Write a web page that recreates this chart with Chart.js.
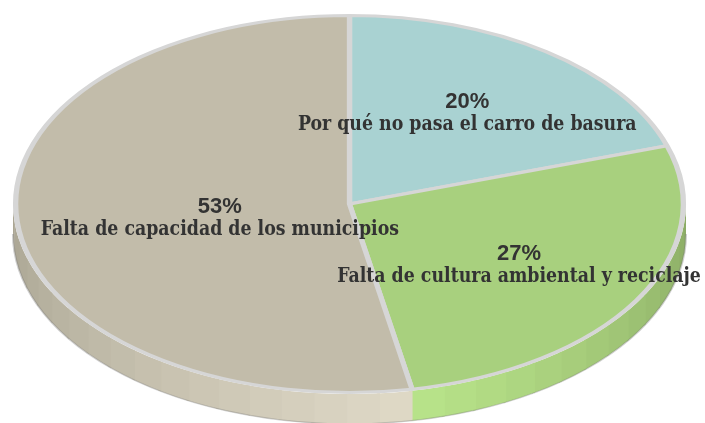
<!DOCTYPE html>
<html>
<head>
<meta charset="utf-8">
<script src="https://cdn.jsdelivr.net/npm/chart.js@4.4.1/dist/chart.umd.min.js"></script>
<style>
  html, body { margin: 0; background: #fff; }
  #wrap { width: 705px; height: 423px; }
</style>
</head>
<body>
<div id="wrap"><canvas id="pie"></canvas></div>
<script>
// data (clockwise from the top)
const categories = [
  'Por qué no pasa el carro de basura',
  'Falta de cultura ambiental y reciclaje',
  'Falta de capacidad de los municipios'
];
const percents = [20, 27, 53];

// colours
const faceColors = ['#a9d2d2', '#a8d07e', '#c2bcaa'];
const sideLight = ['#c4e6e6', '#b9e48a', '#e0dac7'];
const sideDark = ['#8fb3b3', '#8aaa64', '#a8a492'];

const stretchX = 336.5 / 190; // ellipse width / height
const depth = 30;             // thickness of the disc
const lightAngle = 1.38;      // where the side is brightest (radians)
const labelRadius = [0.6, 0.59, 0.39];
const labelShiftY = [-5, -1, 2];

function mix(c1, c2, t) {
  const a = parseInt(c1.slice(1), 16), b = parseInt(c2.slice(1), 16);
  const r = Math.round(((a >> 16) & 255) * (1 - t) + ((b >> 16) & 255) * t);
  const g = Math.round(((a >> 8) & 255) * (1 - t) + ((b >> 8) & 255) * t);
  const bl = Math.round((a & 255) * (1 - t) + (b & 255) * t);
  return `rgb(${r},${g},${bl})`;
}

const pie3d = {
  id: 'pie3d',
  beforeDatasetsDraw(chart) {
    const ctx = chart.ctx;
    const arcs = chart.getDatasetMeta(0).data;
    const cx = arcs[0].x, cy = arcs[0].y;
    ctx.save();
    ctx.translate(cx, 0);
    ctx.scale(stretchX, 1);
    ctx.translate(-cx, 0);

    // side of the disc, in small bands
    arcs.forEach((arc, i) => {
      const r = arc.outerRadius + 1.5;
      const a0 = Math.max(arc.startAngle, 0);
      const a1 = Math.min(arc.endAngle, Math.PI);
      if (a1 <= a0) return;
      const span = Math.max(Math.abs(a0 - lightAngle), Math.abs(a1 - lightAngle));
      const steps = Math.ceil((a1 - a0) / 0.1);
      for (let s = 0; s < steps; s++) {
        const b0 = a0 + (a1 - a0) * s / steps;
        const b1 = a0 + (a1 - a0) * (s + 1) / steps;
        const t = Math.abs((b0 + b1) / 2 - lightAngle) / span;
        ctx.beginPath();
        ctx.arc(cx, cy, r, b0, b1 + 0.01);
        ctx.arc(cx, cy + depth, r, b1 + 0.01, b0, true);
        ctx.closePath();
        ctx.fillStyle = mix(sideLight[i], sideDark[i], t);
        ctx.fill();
      }
    });
    const r = arcs[0].outerRadius + 1.5;
    ctx.beginPath();
    ctx.arc(cx, cy + depth, r, 0, Math.PI);
    ctx.lineWidth = 1.2;
    ctx.strokeStyle = 'rgba(120,120,120,0.35)';
    ctx.stroke();
  },
  afterDatasetsDraw(chart) {
    const ctx = chart.ctx;
    ctx.restore();
    const arcs = chart.getDatasetMeta(0).data;
    ctx.save();
    ctx.fillStyle = '#333';
    ctx.textAlign = 'center';
    ctx.textBaseline = 'alphabetic';
    arcs.forEach((arc, i) => {
      const mid = (arc.startAngle + arc.endAngle) / 2;
      const k = labelRadius[i] * arc.outerRadius;
      const x = arc.x + stretchX * k * Math.cos(mid);
      const y = arc.y + k * Math.sin(mid) + labelShiftY[i];
      ctx.font = 'bold 22px "Liberation Sans", Arial, sans-serif';
      ctx.fillText(percents[i] + '%', x, y);
      ctx.save();
      ctx.translate(x, y + 22);
      ctx.scale(0.965, 1);
      ctx.font = 'bold 20px "DejaVu Serif Condensed", "DejaVu Serif", serif';
      ctx.fillText(categories[i], 0, 0);
      ctx.restore();
    });
    ctx.restore();
  }
};

new Chart(document.getElementById('pie'), {
  type: 'pie',
  data: {
    labels: categories,
    datasets: [{
      data: percents,
      backgroundColor: faceColors,
      borderColor: '#d6d6d6',
      borderWidth: 3
    }]
  },
  options: {
    responsive: true,
    maintainAspectRatio: false,
    animation: false,
    events: [],
    layout: { padding: { top: 14, bottom: 29, left: 0, right: 6 } },
    plugins: {
      legend: { display: false },
      tooltip: { enabled: false }
    }
  },
  plugins: [pie3d]
});
</script>
</body>
</html>
